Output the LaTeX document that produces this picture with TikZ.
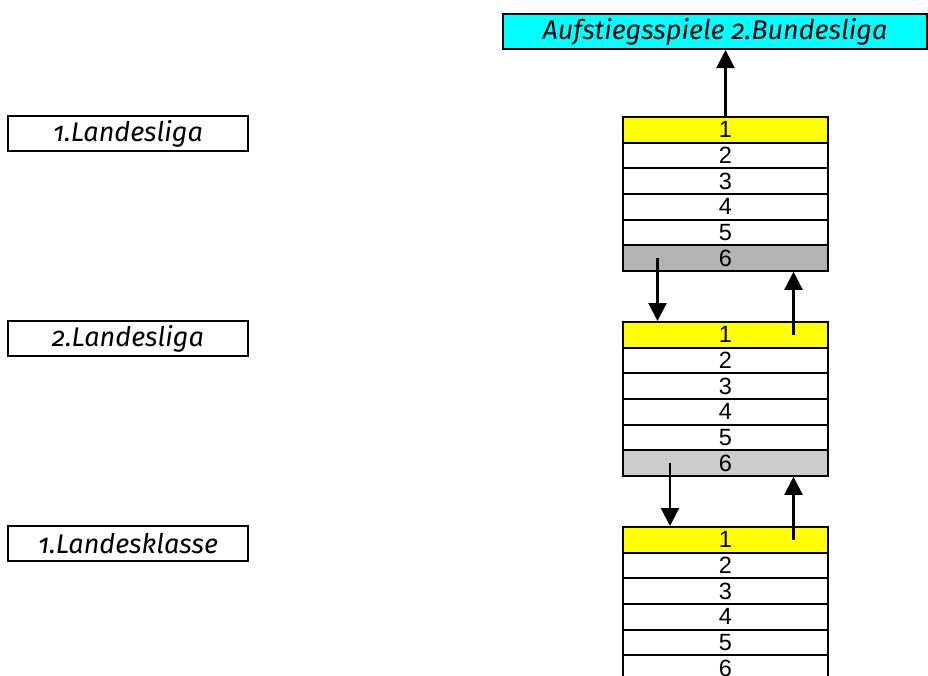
\documentclass[tikz,border=0pt]{standalone}
\usepackage{fontspec}
\setmainfont{Fira Sans}[Numbers=OldStyle]
\newfontfamily\numfont{Liberation Sans}
\usetikzlibrary{arrows.meta}
\definecolor{rowgray}{HTML}{B3B3B3}
\definecolor{rowlight}{HTML}{CCCCCC}
\definecolor{topcyan}{HTML}{00FFFF}
\definecolor{firstyellow}{HTML}{FFFF00}
\tikzset{
  frame/.style={draw=black, line width=2pt, inner sep=0pt},
  leaguebox/.style={frame, minimum width=240pt, minimum height=35pt,
    font=\fontsize{27}{30}\selectfont\itshape},
  tablerow/.style={frame, minimum width=205pt, minimum height=25.625pt,
    anchor=north, font=\numfont\fontsize{23.5}{23.5}\selectfont},
  flow/.style={line width=2.2pt, -{Triangle[length=18pt,width=18pt]}}
}
\begin{document}
\begin{tikzpicture}[x=1pt,y=-1pt]
\useasboundingbox (0,0) rectangle (928,675);

% target of the promotion
\node[frame, fill=topcyan, minimum width=424pt, minimum height=35pt,
      font=\fontsize{27}{30}\selectfont\itshape] (top) at (715,31.5)
      {Aufstiegsspiele 2.Bundesliga};

% league labels
\node[leaguebox] (l1) at (128,133.5) {1.Landesliga};
\node[leaguebox] (l2) at (128,338.5) {2.Landesliga};
\node[leaguebox] (l3) at (128,543.5) {1.Landesklasse};

% standings tables, six places each
\foreach \t/\y in {1/116,2/321,3/526}{
  \foreach \r in {1,...,6}{
    \node[tablerow] (t\t r\r) at (725.5,{\y+(\r-1)*25.625}) {\r};
  }
}
% colouring of promotion and relegation places
\node[tablerow, fill=firstyellow] at (t1r1.north) {1};
\node[tablerow, fill=firstyellow] at (t2r1.north) {1};
\node[tablerow, fill=firstyellow] at (t3r1.north) {1};
\node[tablerow, fill=rowgray] at (t1r6.north) {6};
\node[tablerow, fill=rowlight] at (t2r6.north) {6};

% promotion and relegation
\draw[flow] (t1r1.north) -- (t1r1.north |- top.south);
\coordinate (d1) at ([xshift=-68pt]t1r6.center);
\draw[flow] (d1) -- (d1 |- t2r1.north);
\coordinate (u1) at ([xshift=68pt]t2r1.center);
\draw[flow] (u1) -- (u1 |- t1r6.south);
\coordinate (d2) at ([xshift=-55.5pt]t2r6.center);
\draw[flow] (d2) -- (d2 |- t3r1.north);
\coordinate (u2) at ([xshift=68pt]t3r1.center);
\draw[flow] (u2) -- (u2 |- t2r6.south);
\end{tikzpicture}
\end{document}
